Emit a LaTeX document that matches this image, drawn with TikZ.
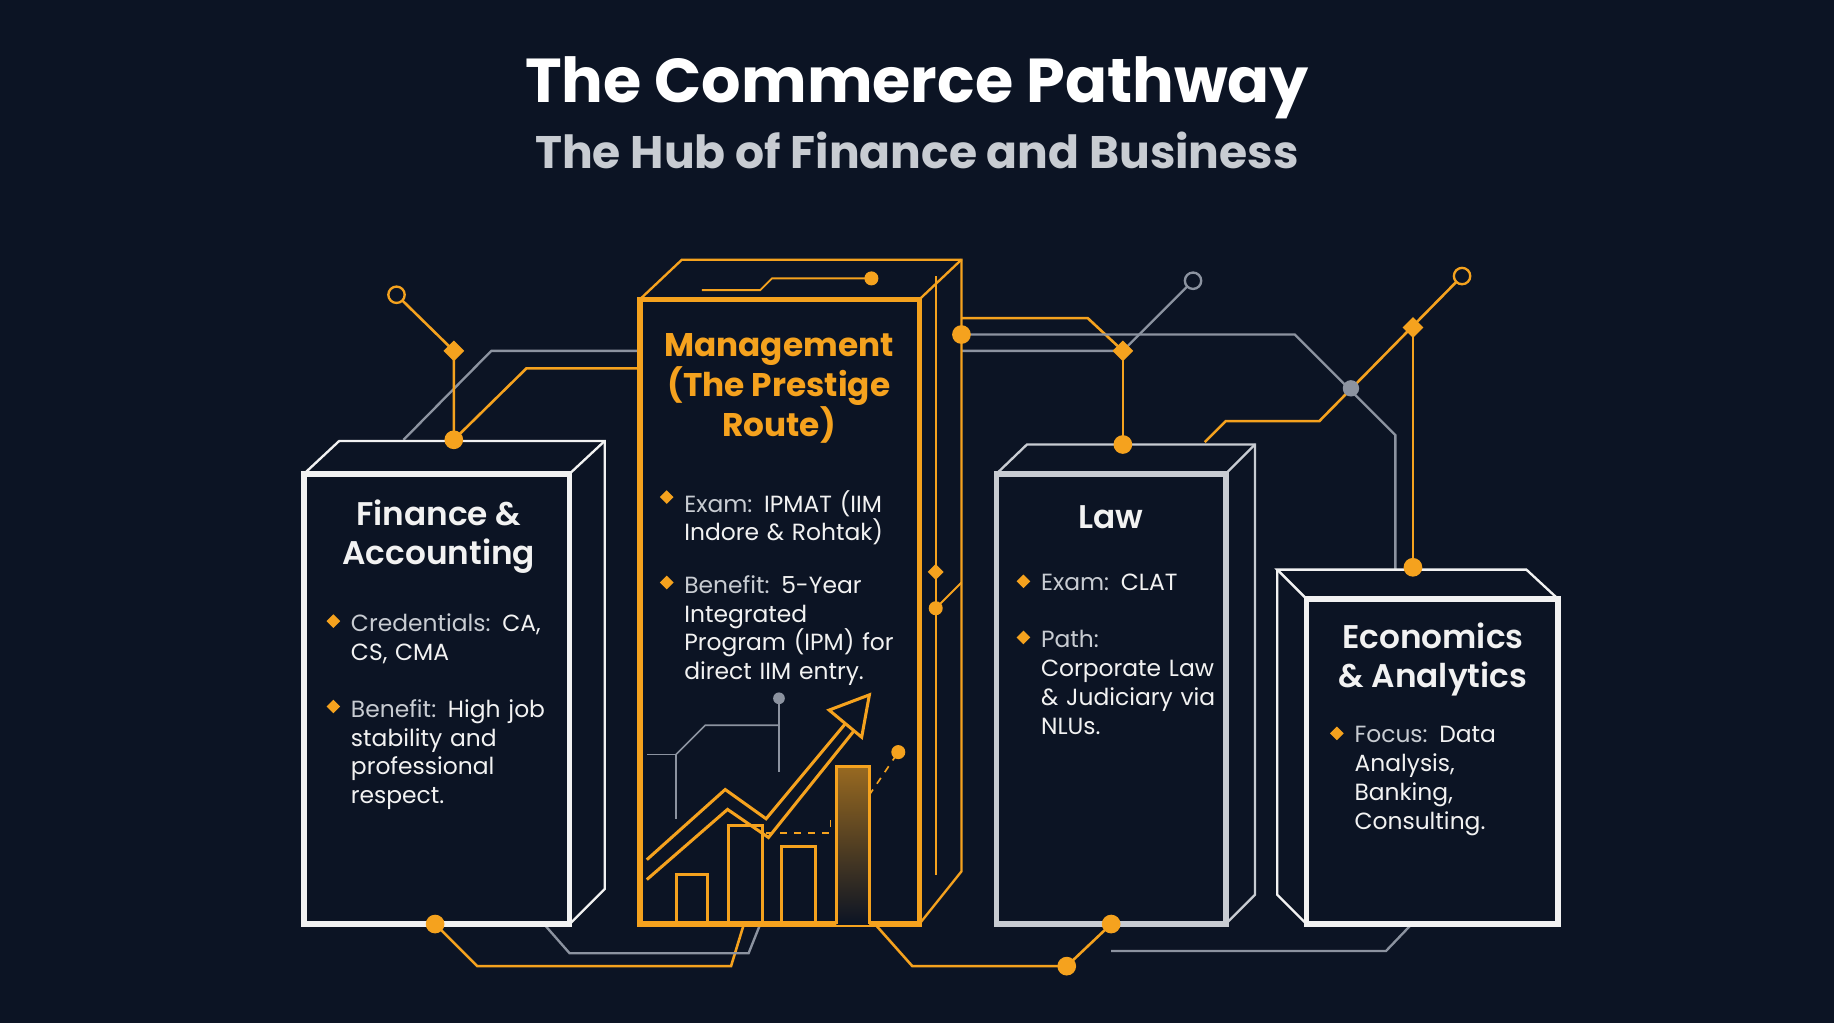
\documentclass[tikz,border=0pt]{standalone}
\usepackage{fontspec}
\setmainfont{Poppins}
\newfontfamily\pbold{Poppins Bold}
\newfontfamily\psemi{Poppins SemiBold}
\usetikzlibrary{shapes.geometric,arrows.meta}
\definecolor{bg}{HTML}{0C1424}
\definecolor{org}{HTML}{F5A21E}
\definecolor{wht}{HTML}{F2F2F2}
\definecolor{gry}{HTML}{8C93A0}
\definecolor{lbl}{HTML}{C8CCD2}
\tikzset{
 frontbox/.style={line width=2.4pt,fill=bg},
 sidebox/.style={line width=1pt,fill=bg},
 oline/.style={org,line width=1.1pt},
 gline/.style={gry,line width=1pt},
 odot/.style={circle,fill=org,inner sep=0pt,minimum size=8pt},
 gdot/.style={circle,fill=gry,inner sep=0pt,minimum size=7pt},
 ring/.style={circle,draw=#1,line width=1pt,inner sep=0pt,minimum size=7pt,fill=bg},
 odia/.style={diamond,fill=org,inner sep=0pt,minimum size=9pt},
 btitle/.style={font=\psemi\fontsize{14}{16.5}\selectfont,align=center,text=wht},
 body/.style={font=\fontsize{10}{12.3}\selectfont,text=wht,align=left,anchor=north west,text width=#1},
 bul/.style={diamond,fill=org,inner sep=0pt,minimum size=6pt},
}
\newcommand{\lb}[1]{\textcolor{lbl}{#1}}
\begin{document}
\begin{tikzpicture}[x=0.5pt,y=-0.5pt]
\fill[bg] (0,0) rectangle (1568,875);
\useasboundingbox (0,0) rectangle (1568,875);
\node[font=\pbold\fontsize{26.5}{30}\selectfont,text=white] (t1) at (784,75) {The Commerce Pathway};
\node[font=\pbold\fontsize{19.5}{23}\selectfont,text=lbl] (t2) at (784,129) {The Hub of Finance and Business};

% circuits (behind boxes)
\draw[gline] (345,376) -- (420,300) -- (547,300);
\draw[oline] (388,376) -- (450,315) -- (547,315);
\draw[oline] (339,252) -- (388,300) -- (388,376);
\draw[oline] (822,272) -- (930,272) -- (960,300);
\draw[gline] (822,286) -- (1107,286) -- (1193,372) -- (1193,487);
\draw[gline] (822,300) -- (960,300) -- (1020,240);
\draw[oline] (960,300) -- (960,380);
\draw[oline] (1030,378) -- (1048,360) -- (1128,360) -- (1250,236);
\draw[oline] (1208,280) -- (1208,485);
\draw[oline] (372,790) -- (408,826) -- (625,826) -- (636,790);
\draw[gline] (465,790) -- (487,815) -- (640,815) -- (650,790);
\draw[oline] (748,790) -- (780,826) -- (912,826) -- (950,790);
\draw[gline] (950,813) -- (1185,813) -- (1207,790);

% Finance box
\draw[wht,sidebox] (260,405) -- (290,377) -- (517,377) -- (517,760) -- (487,790);
\draw[wht,sidebox] (487,405) -- (517,377);
\draw[wht,frontbox] (260,405) rectangle (487,790);
% Management box
\draw[org,sidebox] (547,256) -- (583,222) -- (822,222) -- (822,745) -- (786,790);
\draw[org,sidebox] (786,256) -- (822,222);
\draw[org,line width=0.8pt] (800,236) -- (800,748);
\draw[org,line width=0.8pt] (800,520) -- (822,498);
\draw[org,line width=0.8pt] (600,248) -- (650,248) -- (660,238) -- (745,238);
\node[odot,minimum size=6pt] (m1) at (745,238) {};
\node[odia,minimum size=7pt] (m2) at (800,489) {};
\node[odot,minimum size=6pt] (m3) at (800,520) {};
\draw[org,frontbox] (547,256) rectangle (786,790);
% Law box
\draw[lbl,sidebox] (852,405) -- (878,380) -- (1073,380) -- (1073,765) -- (1048,790);
\draw[lbl,sidebox] (1048,405) -- (1073,380);
\draw[lbl,frontbox] (852,405) rectangle (1048,790);
% Economics box
\draw[wht,sidebox] (1117,512) -- (1092,487) -- (1305,487) -- (1332,512);
\draw[wht,sidebox] (1092,487) -- (1092,765) -- (1117,790);
\draw[wht,frontbox] (1117,512) rectangle (1332,790);

% dots
\node[ring=org] (r1) at (339,252) {};
\node[odia] (d1) at (388,300) {};
\node[odot] (o1) at (388,376) {};
\node[odot] (o2) at (822,286) {};
\node[odia] (d2) at (960,300) {};
\node[odot] (o3) at (960,380) {};
\node[ring=gry] (r2) at (1020,240) {};
\node[gdot] (g1) at (1155,332) {};
\node[odia] (d3) at (1208,280) {};
\node[ring=org] (r3) at (1250,236) {};
\node[odot] (o4) at (1208,485) {};
\node[odot] (o5) at (372,790) {};
\node[odot] (o6) at (950,790) {};
\node[odot] (o7) at (912,826) {};

% chart in management
\draw[gry,line width=0.7pt] (553,645) -- (578,645) -- (578,700);
\draw[gry,line width=0.7pt] (578,645) -- (603,620) -- (666,620);
\draw[gry,line width=0.7pt] (666,597) -- (666,660);
\node[gdot,minimum size=5pt] (g2) at (666,597) {};
\shade[top color=org!60!bg,bottom color=bg] (715,655) rectangle (743,790);
\draw[org,line width=1.3pt] (578,790) -- (578,748) -- (605,748) -- (605,790);
\draw[org,line width=1.3pt] (623,790) -- (623,706) -- (652,706) -- (652,790);
\draw[org,line width=1.3pt] (668,790) -- (668,724) -- (697,724) -- (697,790);
\draw[org,line width=1.3pt] (715,790) -- (715,655) -- (743,655) -- (743,790);
\draw[org,dashed,line width=0.7pt] (655,712) -- (710,712) -- (710,700);
\draw[org,dashed,line width=0.7pt] (743,680) -- (768,643);
\node[odot,minimum size=6pt] (m4) at (768,643) {};
\draw[org,line width=1.3pt,-{Triangle[open,length=18pt,width=20pt]}] (553,735) -- (620,675) -- (655,700) -- (745,592);
\draw[org,line width=1.3pt] (553,752) -- (622,692) -- (657,716) -- (730,625);

% texts
\node[btitle] (ft) at (375,459) {Finance \&\\Accounting};
\node[bul] (b1) at (285,531) {};
\node[body=185pt] (f1) at (293,518) {\lb{Credentials:} CA,\\CS, CMA};
\node[bul] (b2) at (285,604) {};
\node[body=185pt] (f2) at (293,591) {\lb{Benefit:} High job\\stability and\\professional\\respect.};

\node[btitle,text=org,font=\pbold\fontsize{14}{17}\selectfont] (mt) at (666,332) {Management\\(The Prestige\\Route)};
\node[bul] (b3) at (570,425) {};
\node[body=200pt] (m5) at (578,412) {\lb{Exam:} IPMAT (IIM\\Indore \& Rohtak)};
\node[bul] (b4) at (570,498) {};
\node[body=200pt] (m6) at (578,485) {\lb{Benefit:} 5-Year\\Integrated\\Program (IPM) for\\direct IIM entry.};

\node[btitle] (lt) at (950,442) {Law};
\node[bul] (b5) at (875,497) {};
\node[body=170pt] (l1) at (883,484) {\lb{Exam:} CLAT};
\node[bul] (b6) at (875,545) {};
\node[body=170pt] (l2) at (883,532) {\lb{Path:}\\Corporate Law\\\& Judiciary via\\NLUs.};

\node[btitle] (et) at (1225,564) {Economics\\\& Analytics};
\node[bul] (b7) at (1143,627) {};
\node[body=170pt] (e1) at (1151,614) {\lb{Focus:} Data\\Analysis,\\Banking,\\Consulting.};
\end{tikzpicture}
\end{document}
